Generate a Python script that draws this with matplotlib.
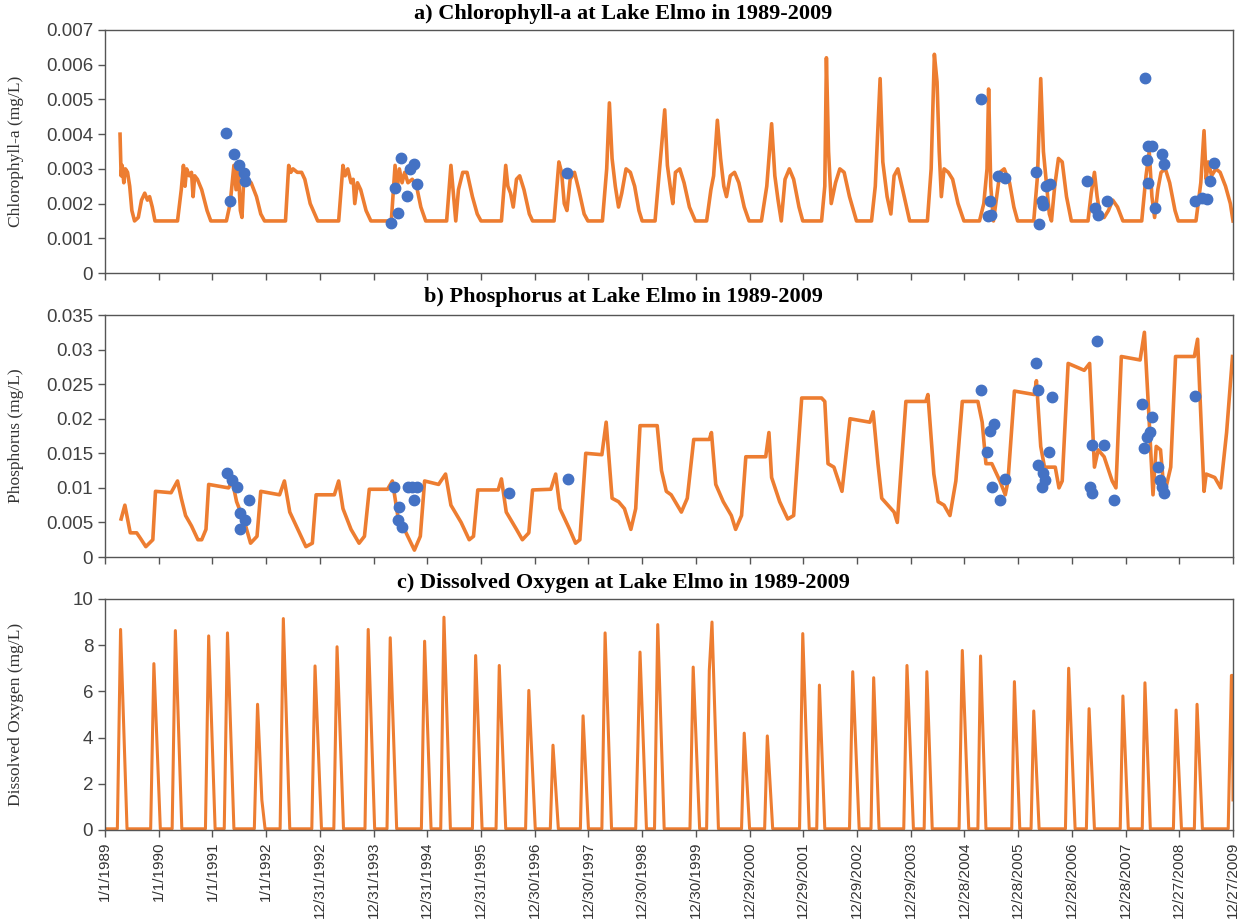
import numpy as np
import matplotlib
matplotlib.use("Agg")
import matplotlib.pyplot as plt
from matplotlib.ticker import FuncFormatter

# time axis: years after 1/1/1989, counted in 365-day years (the chart ticks every 365 days)
chl_t = [0.28, 0.30, 0.32, 0.35, 0.38, 0.42, 0.46, 0.50, 0.55, 0.62, 0.68, 0.74, 0.79, 0.83, 0.88, 0.93,
         1.35, 1.42, 1.46, 1.49, 1.52, 1.57, 1.61, 1.64, 1.67, 1.72, 1.80, 1.90, 1.97,
         2.26, 2.33, 2.40, 2.44, 2.48, 2.52, 2.55, 2.58, 2.64, 2.72, 2.82, 2.90, 2.97,
         3.36, 3.42, 3.46, 3.50, 3.58, 3.66, 3.72, 3.82, 3.96,
         4.35, 4.43, 4.47, 4.52, 4.58, 4.62, 4.65, 4.70, 4.76, 4.86, 4.95,
         5.33, 5.40, 5.44, 5.48, 5.53, 5.58, 5.64, 5.72, 5.80, 5.88, 5.97,
         6.36, 6.44, 6.48, 6.53, 6.58, 6.66, 6.74, 6.84, 6.93, 7.00,
         7.38, 7.46, 7.50, 7.55, 7.60, 7.66, 7.72, 7.80, 7.90, 7.96,
         8.36, 8.45, 8.50, 8.55, 8.60, 8.66, 8.74, 8.82, 8.92, 8.99,
         9.26, 9.34, 9.39, 9.44, 9.50, 9.56, 9.62, 9.70, 9.78, 9.86, 9.94, 10.00,
         10.24, 10.33, 10.42, 10.47, 10.53, 10.57, 10.62, 10.70, 10.78, 10.88, 10.99,
         11.20, 11.28, 11.33, 11.40, 11.46, 11.52, 11.57, 11.64, 11.72, 11.80, 11.90, 11.99,
         12.22, 12.32, 12.41, 12.47, 12.53, 12.59, 12.66, 12.74, 12.82, 12.92, 12.99,
         13.34, 13.40, 13.43, 13.47, 13.52, 13.60, 13.68, 13.76, 13.86, 13.99,
         14.27, 14.34, 14.43, 14.48, 14.56, 14.63, 14.69, 14.76, 14.85, 14.98,
         15.31, 15.38, 15.44, 15.49, 15.53, 15.57, 15.62, 15.70, 15.78, 15.88, 15.99,
         16.28, 16.36, 16.42, 16.45, 16.49, 16.54, 16.60, 16.66, 16.74, 16.84, 16.92, 16.99,
         17.29, 17.36, 17.42, 17.47, 17.53, 17.58, 17.62, 17.68, 17.75, 17.82, 17.90, 17.99,
         18.30, 18.36, 18.42, 18.47, 18.53, 18.60, 18.68, 18.76, 18.85, 18.95,
         19.30, 19.38, 19.44, 19.49, 19.54, 19.60, 19.66, 19.74, 19.82, 19.92, 19.98,
         20.31, 20.40, 20.46, 20.50, 20.54, 20.60, 20.68, 20.76, 20.86, 20.95, 21.00]
chl_v = [0.0040, 0.0028, 0.0031, 0.0026, 0.0030, 0.0029, 0.0025, 0.0018, 0.0015, 0.0016, 0.0021, 0.0023, 0.0021, 0.0022, 0.0019, 0.0015,
         0.0015, 0.0024, 0.0031, 0.0025, 0.0030, 0.0028, 0.0029, 0.0022, 0.0028, 0.0027, 0.0024, 0.0018, 0.0015,
         0.0015, 0.0020, 0.0031, 0.0024, 0.0030, 0.0018, 0.0016, 0.0026, 0.0027, 0.0026, 0.0022, 0.0017, 0.0015,
         0.0015, 0.0031, 0.0029, 0.0030, 0.0029, 0.0029, 0.0027, 0.0020, 0.0015,
         0.0015, 0.0031, 0.0028, 0.0030, 0.0026, 0.0027, 0.0020, 0.0026, 0.0024, 0.0018, 0.0015,
         0.0015, 0.0031, 0.0024, 0.0030, 0.0026, 0.0029, 0.0026, 0.0027, 0.0025, 0.0019, 0.0015,
         0.0015, 0.0031, 0.0024, 0.0015, 0.0024, 0.0029, 0.0029, 0.0022, 0.0017, 0.0015,
         0.0015, 0.0031, 0.0025, 0.0023, 0.0019, 0.0027, 0.0028, 0.0024, 0.0017, 0.0015,
         0.0015, 0.0032, 0.0029, 0.0020, 0.0018, 0.0027, 0.0029, 0.0024, 0.0017, 0.0015,
         0.0015, 0.0030, 0.0049, 0.0033, 0.0025, 0.0019, 0.0023, 0.0030, 0.0029, 0.0025, 0.0018, 0.0015,
         0.0015, 0.0031, 0.0047, 0.0031, 0.0024, 0.0020, 0.0029, 0.0030, 0.0026, 0.0019, 0.0015,
         0.0015, 0.0024, 0.0028, 0.0044, 0.0033, 0.0025, 0.0022, 0.0028, 0.0029, 0.0026, 0.0019, 0.0015,
         0.0015, 0.0025, 0.0043, 0.0028, 0.0021, 0.0015, 0.0027, 0.0030, 0.0027, 0.0019, 0.0015,
         0.0015, 0.0025, 0.0062, 0.0035, 0.0020, 0.0026, 0.0030, 0.0029, 0.0022, 0.0015,
         0.0015, 0.0025, 0.0056, 0.0032, 0.0022, 0.0017, 0.0028, 0.0030, 0.0024, 0.0015,
         0.0015, 0.0030, 0.0063, 0.0055, 0.0035, 0.0022, 0.0030, 0.0029, 0.0027, 0.0020, 0.0015,
         0.0015, 0.0020, 0.0030, 0.0053, 0.0025, 0.0015, 0.0022, 0.0029, 0.0030, 0.0026, 0.0019, 0.0015,
         0.0015, 0.0028, 0.0056, 0.0035, 0.0025, 0.0017, 0.0015, 0.0025, 0.0033, 0.0032, 0.0022, 0.0015,
         0.0015, 0.0023, 0.0029, 0.0022, 0.0016, 0.0016, 0.0018, 0.0021, 0.0019, 0.0015,
         0.0015, 0.0028, 0.0035, 0.0022, 0.0016, 0.0024, 0.0029, 0.0030, 0.0026, 0.0018, 0.0015,
         0.0015, 0.0026, 0.0041, 0.0027, 0.0032, 0.0028, 0.0030, 0.0029, 0.0025, 0.0020, 0.0015]

chl_obs_t = [2.26, 2.40, 2.49, 2.33, 2.59, 2.60, 5.32, 5.45, 5.51, 5.63, 5.68, 5.76, 5.80, 5.40, 8.61,
             16.31, 16.47, 16.43, 16.49, 16.62, 16.75, 17.38, 17.33, 17.44, 17.46, 17.51, 17.59,
             18.28, 18.43, 18.49, 18.66, 19.37, 19.42, 19.50, 19.39, 19.42, 19.68, 19.72, 19.54,
             20.30, 20.43, 20.52, 20.64, 20.57]
chl_obs_v = [0.00404, 0.00344, 0.00310, 0.00207, 0.00287, 0.00264, 0.00144, 0.00173, 0.00332, 0.00223, 0.00300, 0.00314, 0.00255, 0.00245, 0.00287,
             0.00502, 0.00207, 0.00163, 0.00168, 0.00279, 0.00274, 0.00142, 0.00291, 0.00207, 0.00197, 0.00250, 0.00255,
             0.00264, 0.00188, 0.00168, 0.00207, 0.00563, 0.00365, 0.00365, 0.00325, 0.00260, 0.00344, 0.00315, 0.00188,
             0.00207, 0.00216, 0.00212, 0.00317, 0.00264]

phos_t = [0.30, 0.37, 0.47, 0.59, 0.66, 0.76, 0.89, 0.94, 1.23, 1.35, 1.42, 1.50, 1.61, 1.73, 1.80, 1.88, 1.93,
          2.30, 2.37, 2.45, 2.60, 2.71, 2.83, 2.90, 3.25, 3.34, 3.44, 3.59, 3.74, 3.86, 3.93,
          4.27, 4.35, 4.43, 4.58, 4.73, 4.83, 4.92, 5.26, 5.35, 5.45, 5.76, 5.87, 5.95,
          6.21, 6.34, 6.44, 6.63, 6.78, 6.86, 6.94, 7.32, 7.38, 7.47, 7.66, 7.77, 7.89, 7.96,
          8.30, 8.39, 8.47, 8.65, 8.76, 8.84, 8.95, 9.25, 9.33, 9.44, 9.56, 9.67, 9.79, 9.88, 9.96,
          10.28, 10.36, 10.45, 10.54, 10.73, 10.84, 10.96, 11.25, 11.29, 11.37, 11.51, 11.66, 11.74, 11.85, 11.93,
          12.30, 12.36, 12.41, 12.56, 12.71, 12.82, 12.97, 13.34, 13.40, 13.46, 13.57, 13.72, 13.87,
          14.24, 14.30, 14.39, 14.46, 14.69, 14.75, 14.91, 15.28, 15.32, 15.43, 15.51, 15.62, 15.73, 15.84, 15.96,
          16.25, 16.33, 16.40, 16.51, 16.66, 16.76, 16.81, 16.93, 17.30, 17.34, 17.42, 17.49, 17.69, 17.76, 17.82, 17.93,
          18.23, 18.33, 18.42, 18.49, 18.60, 18.75, 18.82, 18.92, 19.27, 19.35, 19.43, 19.51, 19.57, 19.65, 19.72, 19.84, 19.93,
          20.28, 20.34, 20.43, 20.46, 20.50, 20.66, 20.77, 20.88, 20.99]
phos_v = [0.0055, 0.0075, 0.0035, 0.0035, 0.0027, 0.0015, 0.0025, 0.0095, 0.0093, 0.0110, 0.0085, 0.0060, 0.0045, 0.0025, 0.0025, 0.0040, 0.0105,
          0.0100, 0.0110, 0.0080, 0.0050, 0.0020, 0.0030, 0.0095, 0.0090, 0.0110, 0.0065, 0.0040, 0.0015, 0.0020, 0.0090,
          0.0090, 0.0110, 0.0070, 0.0040, 0.0020, 0.0030, 0.0098, 0.0098, 0.0110, 0.0060, 0.0010, 0.0030, 0.0110,
          0.0105, 0.0120, 0.0075, 0.0050, 0.0025, 0.0030, 0.0097, 0.0097, 0.0113, 0.0065, 0.0040, 0.0025, 0.0035, 0.0097,
          0.0098, 0.0120, 0.0070, 0.0040, 0.0020, 0.0025, 0.0150, 0.0148, 0.0195, 0.0085, 0.0080, 0.0070, 0.0040, 0.0070, 0.0190,
          0.0190, 0.0125, 0.0095, 0.0090, 0.0065, 0.0085, 0.0170, 0.0170, 0.0180, 0.0105, 0.0080, 0.0060, 0.0040, 0.0060, 0.0145,
          0.0145, 0.0180, 0.0115, 0.0080, 0.0055, 0.0060, 0.0230, 0.0230, 0.0225, 0.0135, 0.0130, 0.0095, 0.0200,
          0.0195, 0.0210, 0.0135, 0.0085, 0.0065, 0.0050, 0.0225, 0.0225, 0.0235, 0.0120, 0.0080, 0.0075, 0.0060, 0.0110, 0.0225,
          0.0225, 0.0195, 0.0135, 0.0135, 0.0110, 0.0090, 0.0110, 0.0240, 0.0235, 0.0255, 0.0160, 0.0130, 0.0130, 0.0100, 0.0110, 0.0280,
          0.0270, 0.0280, 0.0130, 0.0155, 0.0145, 0.0110, 0.0100, 0.0290, 0.0285, 0.0325, 0.0210, 0.0090, 0.0160, 0.0155, 0.0090, 0.0130, 0.0290,
          0.0290, 0.0315, 0.0150, 0.0095, 0.0120, 0.0115, 0.0100, 0.0180, 0.0290]

phos_obs_t = [2.28, 2.37, 2.45, 2.51, 2.60, 2.51, 2.69, 5.38, 5.48, 5.45, 5.53, 5.64, 5.72, 5.80, 5.76, 7.53, 8.62,
              16.31, 16.55, 16.48, 16.42, 16.51, 16.66, 16.76, 17.34, 17.37, 17.63, 17.57, 17.37, 17.46, 17.50, 17.45,
              18.46, 18.38, 18.60, 18.34, 18.38, 18.78, 19.30, 19.50, 19.45, 19.40, 19.35, 19.61, 19.64, 19.68, 19.72, 20.30]
phos_obs_v = [0.0122, 0.0112, 0.0101, 0.0063, 0.0053, 0.0041, 0.0082, 0.0101, 0.0072, 0.0053, 0.0043, 0.0101, 0.0101, 0.0101, 0.0082, 0.0093, 0.0113,
              0.0241, 0.0192, 0.0182, 0.0152, 0.0101, 0.0082, 0.0113, 0.0281, 0.0241, 0.0232, 0.0152, 0.0133, 0.0122, 0.0112, 0.0101,
              0.0312, 0.0162, 0.0162, 0.0101, 0.0093, 0.0082, 0.0221, 0.0202, 0.0181, 0.0173, 0.0158, 0.0130, 0.0111, 0.0101, 0.0093, 0.0233]

do_t = [0.00, 0.23, 0.29, 0.41, 0.85, 0.91, 1.03, 1.25, 1.31, 1.43, 1.87, 1.93, 2.05, 2.22, 2.28, 2.40,
        2.78, 2.84, 2.92, 2.98, 3.26, 3.32, 3.44, 3.85, 3.91, 4.03, 4.26, 4.32, 4.44, 4.84, 4.90, 5.02,
        5.25, 5.31, 5.43, 5.89, 5.95, 6.07, 6.25, 6.31, 6.43, 6.84, 6.90, 7.02, 7.28, 7.34, 7.46,
        7.83, 7.89, 8.01, 8.29, 8.34, 8.44, 8.85, 8.90, 9.00, 9.25, 9.31, 9.43, 9.88, 9.92, 9.96, 10.08,
        10.23, 10.29, 10.41, 10.89, 10.95, 11.07, 11.20, 11.25, 11.30, 11.42, 11.85, 11.90, 12.00,
        12.28, 12.33, 12.43, 12.93, 12.99, 13.11, 13.25, 13.30, 13.40, 13.86, 13.92, 14.04,
        14.26, 14.31, 14.41, 14.87, 14.93, 15.05, 15.25, 15.30, 15.40, 15.90, 15.96, 16.08,
        16.25, 16.30, 16.40, 16.88, 16.93, 17.03, 17.24, 17.29, 17.39, 17.88, 17.94, 18.06,
        18.27, 18.32, 18.42, 18.90, 18.95, 19.05, 19.31, 19.36, 19.46, 19.89, 19.94, 20.04,
        20.28, 20.33, 20.43, 20.91, 20.97, 20.99, 21.00]
do_v = [0.05, 0.05, 8.68, 0.05, 0.05, 7.20, 0.05, 0.05, 8.63, 0.05, 0.05, 8.40, 0.05, 0.05, 8.53, 0.05,
        0.05, 5.44, 1.30, 0.05, 0.05, 9.15, 0.05, 0.05, 7.10, 0.05, 0.05, 7.93, 0.05, 0.05, 8.68, 0.05,
        0.05, 8.32, 0.05, 0.05, 8.17, 0.05, 0.05, 9.21, 0.05, 0.05, 7.55, 0.05, 0.05, 7.12, 0.05,
        0.05, 6.04, 0.05, 0.05, 3.67, 0.05, 0.05, 4.94, 0.05, 0.05, 8.53, 0.05, 0.05, 3.60, 7.70, 0.05,
        0.05, 8.89, 0.05, 0.05, 7.05, 0.05, 0.05, 6.90, 9.00, 0.05, 0.05, 4.19, 0.05,
        0.05, 4.07, 0.05, 0.05, 8.50, 0.05, 0.05, 6.27, 0.05, 0.05, 6.85, 0.05,
        0.05, 6.59, 0.05, 0.05, 7.12, 0.05, 0.05, 6.85, 0.05, 0.05, 7.77, 0.05,
        0.05, 7.53, 0.05, 0.05, 6.42, 0.05, 0.05, 5.15, 0.05, 0.05, 7.00, 0.05,
        0.05, 5.25, 0.05, 0.05, 5.80, 0.05, 0.05, 6.37, 0.05, 0.05, 5.19, 0.05,
        0.05, 5.44, 0.05, 0.05, 6.69, 6.69, 1.30]

titles = ["a) Chlorophyll-a at Lake Elmo in 1989-2009",
          "b) Phosphorus at Lake Elmo in 1989-2009",
          "c) Dissolved Oxygen at Lake Elmo in 1989-2009"]
ylabels = ["Chlorophyll-a (mg/L)", "Phosphorus (mg/L)", "Dissolved Oxygen (mg/L)"]

ORANGE = "#ED7D31"
BLUE = "#4472C4"
start = np.datetime64("1989-01-01T00")


def to_dates(t):
    hours = np.round(np.asarray(t) * 365 * 24).astype(int)
    return start + hours.astype("timedelta64[h]")


tick_dates = [start + np.timedelta64(365 * 24 * k, "h") for k in range(22)]
tick_labels = []
for d in tick_dates:
    y, m, dd = str(d)[:10].split("-")
    tick_labels.append(f"{int(m)}/{int(dd)}/{y}")

fig = plt.figure(figsize=(12.47, 9.23), dpi=100)
axa = fig.add_axes([0.0842, 0.7042, 0.9046, 0.2633])
axb = fig.add_axes([0.0842, 0.3965, 0.9046, 0.2622])
axc = fig.add_axes([0.0842, 0.1008, 0.9046, 0.2503])

axa.plot(to_dates(chl_t), chl_v, color=ORANGE, lw=2.6, zorder=2)
axa.plot(to_dates(chl_obs_t), chl_obs_v, "o", color=BLUE, ms=7.5, zorder=3)
axb.plot(to_dates(phos_t), phos_v, color=ORANGE, lw=2.6, zorder=2)
axb.plot(to_dates(phos_obs_t), phos_obs_v, "o", color=BLUE, ms=7.5, zorder=3)
axc.plot(to_dates(do_t), do_v, color=ORANGE, lw=2.2, zorder=2)


def fmt(v, pos):
    s = f"{v:.3f}".rstrip("0").rstrip(".")
    return s if s != "-0" else "0"


ylims = [(0, 0.007, 0.001), (0, 0.035, 0.005), (0, 10, 2)]
title_y = [923 - 14, 923 - 297, 923 - 583]
serif = "Liberation Serif"
for i, ax in enumerate([axa, axb, axc]):
    lo, hi, step = ylims[i]
    ax.set_ylim(lo, hi)
    ax.set_yticks(np.arange(lo, hi + step / 2, step))
    ax.yaxis.set_major_formatter(FuncFormatter(fmt))
    ax.set_xlim(tick_dates[0], tick_dates[-1])
    ax.set_xticks(tick_dates)
    if i < 2:
        ax.set_xticklabels([])
    else:
        ax.set_xticklabels(tick_labels, rotation=90, family="Liberation Sans", fontsize=11, color="#333333")
    for lab in ax.get_yticklabels():
        lab.set_family("Liberation Sans")
        lab.set_fontsize(13.5)
        lab.set_color("#404040")
    ax.tick_params(axis="both", direction="out", length=5, width=1, color="#555555")
    ax.set_ylabel(ylabels[i], family=serif, fontsize=12.5, color="#333333")
    ax.yaxis.set_label_coords(-0.072, 0.5)
    for s in ax.spines.values():
        s.set_color("#555555")
        s.set_linewidth(1)
    fig.text(0.5, title_y[i] / 923, titles[i], ha="center", va="center",
             family=serif, fontweight="bold", fontsize=16)

fig.savefig("out.png", dpi=100)
